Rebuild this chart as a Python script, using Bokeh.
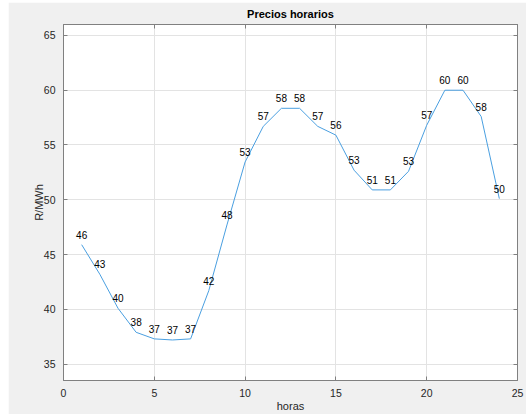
from bokeh.plotting import figure
from bokeh.models import Range1d, LinearAxis, SingleIntervalTicker, ColumnDataSource
from bokeh.core.properties import value
from bokeh.embed import file_html
from bokeh.resources import INLINE

hours = list(range(1, 25))
prices = [45.9, 43.2, 40.1, 37.9, 37.3, 37.2, 37.3, 41.7, 47.7, 53.45, 56.7, 58.35,
          58.35, 56.7, 55.9, 52.7, 50.9, 50.9, 52.6, 56.8, 60.0, 60.0, 57.6, 50.1]
labels = ["46", "43", "40", "38", "37", "37", "37", "42", "48", "53", "57", "58",
          "58", "57", "56", "53", "51", "51", "53", "57", "60", "60", "58", "50"]
x_ticks_interval = 5
y_ticks_interval = 5

FONT = "Liberation Sans"
AX = "#808080"
TXT = "#262626"

src = ColumnDataSource(dict(h=hours, p=prices, lab=labels))

p = figure(width=518, height=412, output_backend="svg", toolbar_location=None,
           x_range=Range1d(0, 25), y_range=Range1d(33.5, 66),
           min_border_left=55, min_border_right=9, min_border_top=22, min_border_bottom=30,
           margin=(2, 0, 0, 8))
p.background_fill_color = "white"
p.border_fill_color = "#f0f0f0"
p.outline_line_color = AX

p.title.text = "Precios horarios"
p.title.align = "center"
p.title.text_font = FONT
p.title.text_font_size = "11px"
p.title.text_font_style = "bold"
p.title.text_color = "#000000"
p.title.standoff = 2

p.line("h", "p", source=src, line_color="#4a9fe0", line_width=1)
p.text("h", "p", text="lab", source=src, text_align="center", text_baseline="middle",
       y_offset=-10, text_font=value(FONT), text_font_size="10px", text_color="#000000")

for ax in p.xaxis:
    ax.ticker = SingleIntervalTicker(interval=x_ticks_interval)
    ax.axis_label = "horas"
for ax in p.yaxis:
    ax.ticker = SingleIntervalTicker(interval=y_ticks_interval)
    ax.axis_label = "R/MWh"

for ax in list(p.xaxis) + list(p.yaxis):
    ax.axis_line_color = AX
    ax.major_tick_line_color = AX
    ax.major_tick_in = 4
    ax.major_tick_out = 0
    ax.minor_tick_line_color = None
    ax.major_label_text_font = FONT
    ax.major_label_text_font_size = "10.5px"
    ax.major_label_text_color = TXT
    ax.major_label_standoff = 4
    ax.axis_label_text_font = FONT
    ax.axis_label_text_font_size = "11px"
    ax.axis_label_text_font_style = "normal"
    ax.axis_label_text_color = TXT
    ax.axis_label_standoff = 0

for ax in p.yaxis:
    ax.axis_label_standoff = -4

for loc, tick in (("right", y_ticks_interval), ("above", x_ticks_interval)):
    a = LinearAxis(ticker=SingleIntervalTicker(interval=tick))
    a.axis_line_color = AX
    a.major_tick_line_color = AX
    a.major_tick_in = 4
    a.major_tick_out = 0
    a.minor_tick_line_color = None
    a.major_label_text_font_size = "1px"
    a.major_label_text_color = None
    a.major_label_standoff = 0
    p.add_layout(a, loc)

p.xgrid.grid_line_color = "#e3e3e3"
p.ygrid.grid_line_color = "#e3e3e3"

open("out.html", "w").write(file_html(p, INLINE))
